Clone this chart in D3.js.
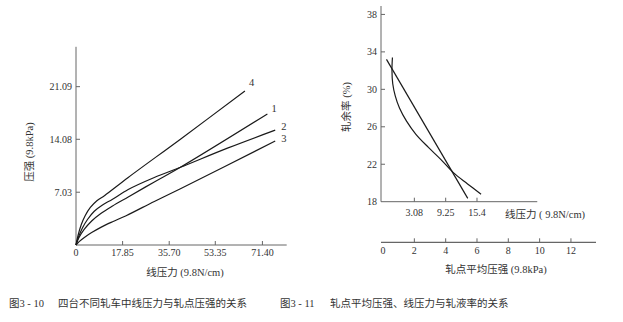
<!DOCTYPE html>
<html><head><meta charset="utf-8">
<script src="https://cdn.jsdelivr.net/npm/d3@7"></script>
<style>body{margin:0;background:#fff}svg{display:block}</style>
</head><body>
<svg id="c" width="623" height="322"></svg>
<script>
// ---------- Data: Fig 3-10 ----------
const leftXTicks = [0, 17.85, 35.70, 53.35, 71.40];
const leftXTickLabels = ["0", "17.85", "35.70", "53.35", "71.40"];
const leftYTicks = [7.03, 14.08, 21.09];
const leftYTickLabels = ["7.03", "14.08", "21.09"];
const curveNames = ["4", "1", "2", "3"];
const curve4 = [[0,0],[0.8,1.3],[2,2.7],[3.5,3.9],[5.5,5.0],[8,5.9],[11,6.6],[20,9.0],[40,14.1],[64.7,20.5]];
const curve1 = [[0,0],[1,0.9],[3.2,2.1],[6,3.2],[9.5,4.2],[14,5.2],[20,6.4],[30,8.4],[40,10.35],[73.3,17.45]];
const curve2 = [[0,0],[1,1.1],[2.5,2.3],[4.4,3.4],[7,4.5],[10,5.3],[14,6.1],[20,7.4],[30,9.0],[40,10.35],[58,12.9],[76.3,15.3]];
const curve3 = [[0,0],[1.2,0.45],[3.2,1.0],[6,1.65],[9.5,2.35],[14,3.1],[19.2,3.9],[30,5.8],[40,7.5],[76.3,13.85]];

// ---------- Data: Fig 3-11 ----------
const rightYTicks = [18, 22, 26, 30, 34, 38];
const pressureTicks = [0, 2, 4, 6, 8, 10, 12];
const lineForceTickPos = [2, 4, 6];
const lineForceTickLabels = ["3.08", "9.25", "15.4"];
const straightLine = [[0.22,33.2],[5.41,18.36]];
const retentionCurve = [[0.6,33.4],[0.57,32.0],[0.62,30.6],[0.78,29.3],[1.05,28.0],[1.5,26.6],[2.1,25.2],[2.9,23.8],[3.7,22.5],[4.49,21.1],[5.4,19.9],[6.26,18.8]];

const svg = d3.select("#c");
const serif = "Liberation Serif, Times New Roman, DejaVu Serif, Noto Sans CJK SC, serif";
const cjk = "Liberation Serif, Times New Roman, Noto Sans CJK SC, sans-serif";
const axisColor = "#666";
const inkColor = "#1a1a1a";
const textColor = "#333";

// ---------- Left chart ----------
const lx = d3.scaleLinear().domain([0, 80.7]).range([76, 286.7]);
const ly = d3.scaleLinear().domain([0, 26.4]).range([245, 46.8]);
const gL = svg.append("g");

gL.append("line").attr("x1", lx(0)).attr("x2", lx(0)).attr("y1", ly(0)).attr("y2", ly.range()[1])
  .attr("stroke", axisColor).attr("stroke-width", 1);
gL.append("line").attr("x1", lx(0)).attr("x2", lx.range()[1]).attr("y1", ly(0)).attr("y2", ly(0))
  .attr("stroke", axisColor).attr("stroke-width", 1);
leftXTicks.forEach((t, i) => {
  if (t > 0) gL.append("line").attr("x1", lx(t)).attr("x2", lx(t)).attr("y1", ly(0)).attr("y2", ly(0) - 4)
    .attr("stroke", axisColor);
  gL.append("text").attr("x", lx(t)).attr("y", ly(0) + 11).attr("text-anchor", "middle")
    .attr("font-family", serif).attr("font-size", 10).attr("fill", textColor).text(leftXTickLabels[i]);
});
leftYTicks.forEach((t, i) => {
  gL.append("line").attr("x1", lx(0)).attr("x2", lx(0) + 4).attr("y1", ly(t)).attr("y2", ly(t))
    .attr("stroke", axisColor);
  gL.append("text").attr("x", lx(0) - 4).attr("y", ly(t) + 3.5).attr("text-anchor", "end")
    .attr("font-family", serif).attr("font-size", 10).attr("fill", textColor).text(leftYTickLabels[i]);
});
const lineL = d3.line().x(d => lx(d[0])).y(d => ly(d[1])).curve(d3.curveCatmullRom.alpha(0.5));
const leftCurves = [curve4, curve1, curve2, curve3];
const labelOffsets = [[4, -5], [4, -2], [6, 0], [6, 1]];
leftCurves.forEach((c, i) => {
  gL.append("path").attr("d", lineL(c)).attr("fill", "none").attr("stroke", inkColor).attr("stroke-width", 1.2);
  const e = c[c.length - 1];
  gL.append("text").attr("x", lx(e[0]) + labelOffsets[i][0]).attr("y", ly(e[1]) + labelOffsets[i][1])
    .attr("font-family", serif).attr("font-size", 10.5).attr("fill", textColor).text(curveNames[i]);
});
gL.append("text").attr("x", 185).attr("y", 276).attr("text-anchor", "middle")
  .attr("font-family", cjk).attr("font-size", 10.5).attr("fill", textColor).text("线压力 (9.8N/cm)");
gL.append("text").attr("transform", "translate(33,152) rotate(-90)").attr("text-anchor", "middle")
  .attr("font-family", cjk).attr("font-size", 10.5).attr("fill", textColor).text("压强 (9.8kPa)");

// ---------- Right chart ----------
const rx = d3.scaleLinear().domain([-0.13, 13.6]).range([381, 596]);
const ry = d3.scaleLinear().domain([18, 38.9]).range([201.7, 6]);
const gR = svg.append("g");

gR.append("line").attr("x1", rx.range()[0]).attr("x2", rx.range()[0]).attr("y1", ry(18)).attr("y2", ry.range()[1])
  .attr("stroke", axisColor);
gR.append("line").attr("x1", rx.range()[0]).attr("x2", rx(9.85)).attr("y1", ry(18)).attr("y2", ry(18))
  .attr("stroke", axisColor);
rightYTicks.forEach(t => {
  if (t > 18) gR.append("line").attr("x1", rx.range()[0]).attr("x2", rx.range()[0] + 4).attr("y1", ry(t)).attr("y2", ry(t))
    .attr("stroke", axisColor);
  gR.append("text").attr("x", rx.range()[0] - 4).attr("y", ry(t) + 3.5).attr("text-anchor", "end")
    .attr("font-family", serif).attr("font-size", 10).attr("fill", textColor).text(t);
});
lineForceTickPos.forEach((p, i) => {
  gR.append("line").attr("x1", rx(p)).attr("x2", rx(p)).attr("y1", ry(18)).attr("y2", ry(18) - 4).attr("stroke", axisColor);
  gR.append("text").attr("x", rx(p)).attr("y", ry(18) + 14).attr("text-anchor", "middle")
    .attr("font-family", serif).attr("font-size", 10).attr("fill", textColor).text(lineForceTickLabels[i]);
});
gR.append("text").attr("x", 545).attr("y", 218).attr("text-anchor", "middle")
  .attr("font-family", cjk).attr("font-size", 10.5).attr("fill", textColor).text("线压力 ( 9.8N/cm)");

const lowY = 242.3;
gR.append("line").attr("x1", rx.range()[0]).attr("x2", rx.range()[1]).attr("y1", lowY).attr("y2", lowY)
  .attr("stroke", axisColor).attr("stroke-width", 1.2);
pressureTicks.forEach(p => {
  if (p > 0) gR.append("line").attr("x1", rx(p)).attr("x2", rx(p)).attr("y1", lowY).attr("y2", lowY - 4).attr("stroke", axisColor);
  gR.append("text").attr("x", rx(p)).attr("y", lowY + 11.5).attr("text-anchor", "middle")
    .attr("font-family", serif).attr("font-size", 10).attr("fill", textColor).text(p);
});
gR.append("text").attr("x", 496).attr("y", 273).attr("text-anchor", "middle")
  .attr("font-family", cjk).attr("font-size", 10.5).attr("fill", textColor).text("轧点平均压强 (9.8kPa)");
gR.append("text").attr("transform", "translate(350,107) rotate(-90)").attr("text-anchor", "middle")
  .attr("font-family", cjk).attr("font-size", 10.5).attr("fill", textColor).text("轧余率 (%)");

const lineR = d3.line().x(d => rx(d[0])).y(d => ry(d[1]));
gR.append("path").attr("d", lineR(straightLine)).attr("fill", "none").attr("stroke", inkColor).attr("stroke-width", 1.2);
gR.append("path").attr("d", lineR.curve(d3.curveCatmullRom.alpha(0.5))(retentionCurve)).attr("fill", "none")
  .attr("stroke", inkColor).attr("stroke-width", 1.2);

// ---------- Captions ----------
const captions = [
  ["图3 - 10", 9], ["四台不同轧车中线压力与轧点压强的关系", 58],
  ["图3 - 11", 280], ["轧点平均压强、线压力与轧液率的关系", 330]
];
captions.forEach(c => {
  svg.append("text").attr("x", c[1]).attr("y", 307).attr("font-family", cjk).attr("font-size", 10.5)
    .attr("fill", textColor).text(c[0]);
});
</script>
</body></html>
